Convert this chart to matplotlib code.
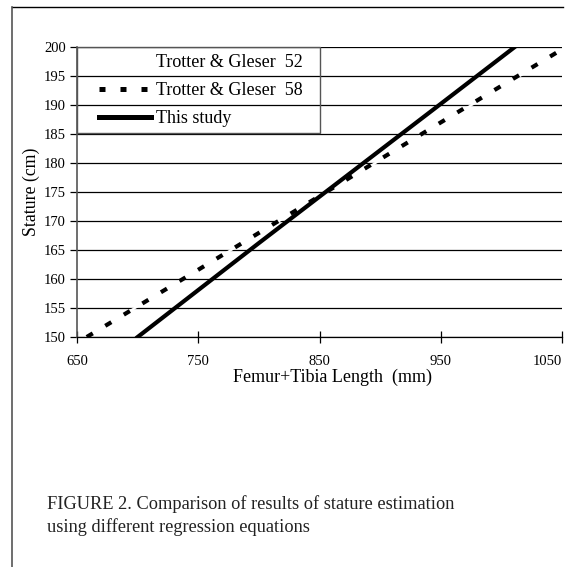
import matplotlib
matplotlib.use("Agg")
import matplotlib.pyplot as plt
from matplotlib.lines import Line2D
from matplotlib.patches import Rectangle

# values (stature in cm vs femur+tibia length in mm)
len_tg52 = [650, 750, 850, 950, 1050]
tg52 = [148.99, 161.59, 174.19, 186.79, 199.39]

len_tg58 = [658, 750, 850, 950, 1050]
tg58 = [150.0, 161.6, 174.3, 187.0, 199.6]

len_study = [700, 750, 800, 850, 900, 950, 1011]
study = [150.0, 158.1, 166.2, 174.2, 182.2, 190.2, 200.0]

labels = ["Trotter & Gleser  52", "Trotter & Gleser  58", "This study"]

plt.rcParams["font.family"] = ["Liberation Serif", "DejaVu Serif"]

fig = plt.figure(figsize=(5.70, 5.67), dpi=100)
ax = fig.add_axes([0.1351, 0.4056, 0.8509, 0.5115])

# outer frame of the scanned figure (top and left edges only)
fig.add_artist(Line2D([0.021, 0.988], [0.988, 0.988], color="black", lw=1.0, transform=fig.transFigure))
fig.add_artist(Line2D([0.021, 0.021], [0.0, 0.988], color="#555555", lw=1.2, transform=fig.transFigure))

ax.set_xlim(650, 1050)
ax.set_ylim(150, 200)
ax.set_xticks([650, 750, 850, 950, 1050])
ax.set_yticks(range(150, 201, 5))
ax.yaxis.grid(True, color="black", lw=0.9)
ax.set_axisbelow(True)

for s in ["top", "right"]:
    ax.spines[s].set_visible(False)
ax.spines["left"].set_color("#555555")
ax.spines["left"].set_linewidth(1.2)
ax.spines["bottom"].set_linewidth(0.9)

ax.tick_params(axis="x", direction="inout", length=8, width=0.9, pad=9, labelsize=10.5)
ax.tick_params(axis="y", direction="out", length=5, width=0.9, pad=3, labelsize=10.5)
ax.get_xticklabels()[-1].set_horizontalalignment("right")

ax.plot(len_tg52, tg52, color="white", lw=1.6, zorder=2)
ax.plot(len_tg58, tg58, color="black", lw=3.0, dashes=(1.7, 3.5), solid_capstyle="butt",
        dash_capstyle="butt", zorder=3)
ax.plot(len_study, study, color="black", lw=3.0, zorder=4)

handles = [
    Line2D([], [], color="white", lw=0),
    Line2D([], [], color="black", lw=3.6, dashes=(1.2, 3.0), dash_capstyle="butt"),
    Line2D([], [], color="black", lw=3.6),
]
ax.legend(handles, labels, loc="upper left", bbox_to_anchor=(0.030, 1.0), frameon=False,
          fontsize=13, handlelength=2.9, handletextpad=0.28, labelspacing=0.61,
          borderpad=0.4, borderaxespad=0.0)
ax.add_patch(Rectangle((0, 0.7034), 0.501, 0.2966, transform=ax.transAxes, fill=False,
                       edgecolor="#555555", lw=1.0, zorder=5, clip_on=False))

ax.set_ylabel("Stature (cm)", fontsize=12.8, labelpad=3)
fig.text(0.5825, 0.335, "Femur+Tibia Length  (mm)", fontsize=13, ha="center", va="center")

fig.text(0.082, 0.0905, "FIGURE 2. Comparison of results of stature estimation\nusing different regression equations",
         fontsize=13.25, ha="left", va="center", linespacing=1.42, color="#222222")

fig.savefig("out.png", dpi=100)
